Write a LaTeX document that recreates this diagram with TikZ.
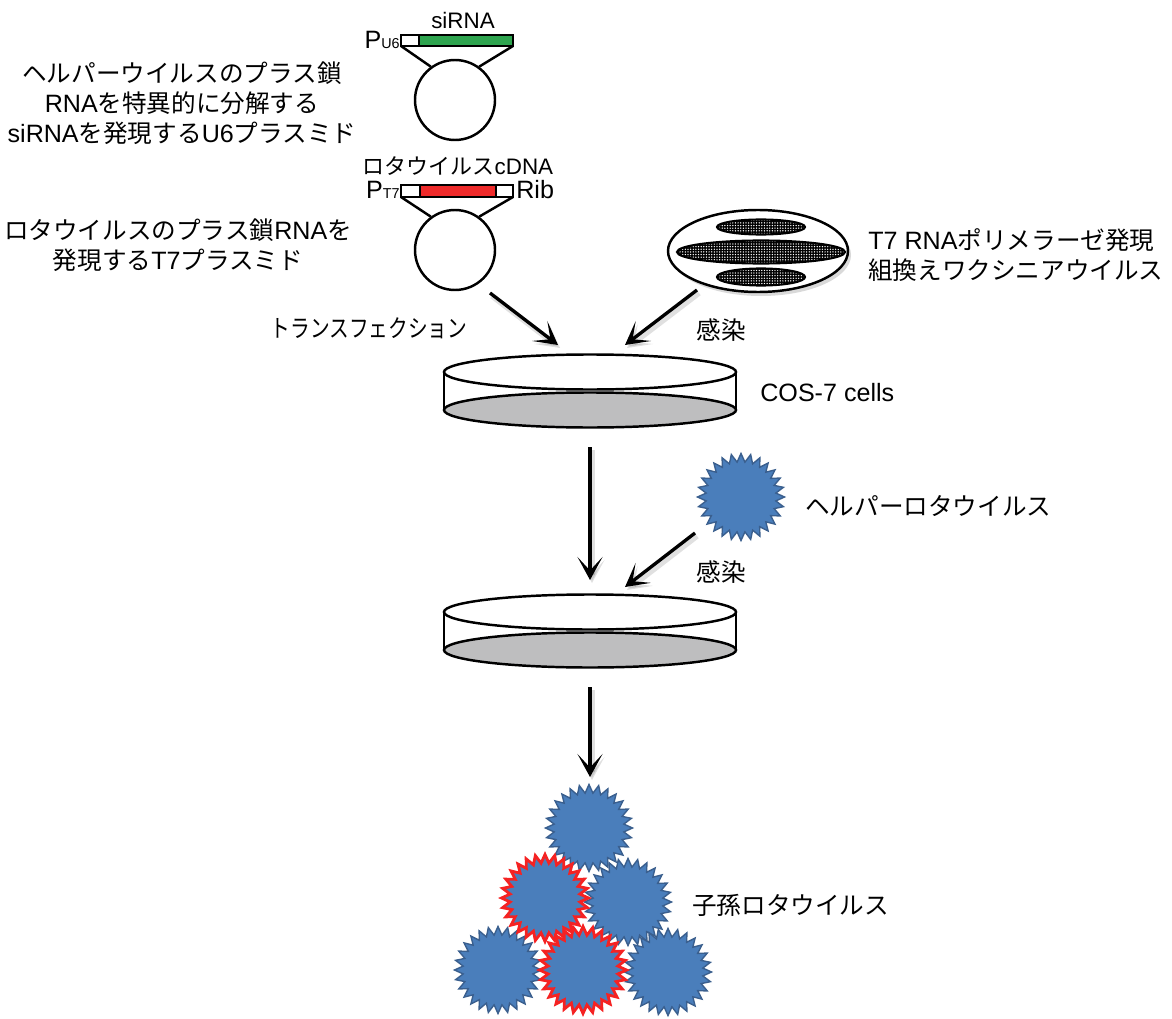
\documentclass[tikz,border=0pt]{standalone}
\usepackage{fontspec}
\setmainfont{Liberation Sans}[Scale=1.02]
\newfontfamily\jpfont{Noto Sans CJK JP}
\newcommand{\ja}[1]{{\jpfont#1}}
\usepackage{xcolor}
\definecolor{cSi}{HTML}{2EA44F}
\definecolor{cCdna}{HTML}{EE2A2A}
\definecolor{cVirus}{HTML}{4A7EBB}
\definecolor{cVirusEdge}{HTML}{3A5F8E}
\definecolor{cRed}{HTML}{F52222}
\definecolor{cDish}{HTML}{BEBEBF}
\usepackage{tikz}
\usetikzlibrary{positioning,arrows.meta,shapes.geometric,patterns.meta,shadows}
\tikzset{
  lbl/.style={font=\fontsize{14}{17}\selectfont,align=center,inner sep=0pt},
  small/.style={font=\fontsize{12.5}{15}\selectfont},
  seg/.style={draw,line width=1.3pt,outer sep=0pt,inner sep=0pt},
  ring/.style={draw,circle,line width=1.4pt,minimum size=16mm,inner sep=0pt},
  % particles: blue = helper, red rim = reassortant
  virus/.style={star,star points=28,star point ratio=1.24,minimum size=17.4mm,
    inner sep=0pt,fill=cVirus,draw=cVirusEdge,line width=0.8pt},
  virus-red/.style={virus,draw=cRed,line width=1.6pt},
  core/.style={preaction={fill=black},pattern={Dots[distance=1.5pt,radius=0.42pt]},
    pattern color=white,draw=black,line width=1.2pt},
  arrow/.style={-{Stealth[length=4.6mm,width=5mm,inset=2.7mm]},line width=1.9pt,
    preaction={draw=black!60,opacity=0.2,line width=3.2pt,
      transform canvas={shift={(0.4mm,-0.6mm)}}}},
  dish/.pic={
    \draw[line width=1.4pt,fill=cDish] (0,38) ellipse [x radius=146,y radius=17.5];
    \draw[line width=1.4pt,fill=white] (0,0) ellipse [x radius=146,y radius=17.5];
    \draw[line width=1.4pt] (-146,0) -- (-146,38) (146,0) -- (146,38);
  },
}

\begin{document}
\begin{tikzpicture}[x=0.2mm,y=-0.2mm]
  \useasboundingbox (0,0) rectangle (1172,1019);

  % U6 siRNA plasmid
  \node[seg,fill=white,minimum width=3.6mm,minimum height=2.2mm] (u6prom) at (410,40.5) {};
  \node[seg,fill=cSi,minimum width=18.8mm,minimum height=2.2mm,right=0pt of u6prom] (u6si) {};
  \node[ring] (ringU6) at (455,100) {};
  \draw[line width=1.4pt] (u6prom.south west) -- (ringU6.126);
  \draw[line width=1.4pt] (u6si.south east) -- (ringU6.54);
  \node[lbl,small] (siname) at (463,20) {siRNA};
  \node[lbl,anchor=base east] (pu6) at (400,49) {P{\fontsize{8}{8}\selectfont U6}};

  % T7 cDNA plasmid
  \node[seg,fill=white,minimum width=3.8mm,minimum height=2.4mm] (t7prom) at (410.5,191) {};
  \node[seg,fill=cCdna,minimum width=15.2mm,minimum height=2.4mm,right=0pt of t7prom] (t7cdna) {};
  \node[seg,fill=white,minimum width=3.4mm,minimum height=2.4mm,right=0pt of t7cdna] (t7rib) {};
  \node[ring] (ringT7) at (455,250) {};
  \draw[line width=1.4pt] (t7prom.south west) -- (ringT7.126);
  \draw[line width=1.4pt] (t7rib.south east) -- (ringT7.54);
  \node[lbl,small] (cdnaname) at (458,166) {\ja{ロタウイルス}cDNA};
  \node[lbl,anchor=base east] (pt7) at (400,199) {P{\fontsize{8}{8}\selectfont T7}};
  \node[lbl,anchor=base west] (rib) at (516,199) {Rib};

  \node[lbl] (u6txt) at (182,103)
    {\ja{ヘルパーウイルスのプラス鎖}\\RNA\ja{を特異的に分解する}\\siRNA\ja{を発現する}U6\ja{プラスミド}};
  \node[lbl] (t7txt) at (178,245)
    {\ja{ロタウイルスのプラス鎖}RNA\ja{を}\\\ja{発現する}T7\ja{プラスミド}};

  % recombinant vaccinia
  \draw[line width=1.4pt,fill=white,drop shadow={opacity=0.3,shadow xshift=0.6mm,shadow yshift=-0.8mm}]
    (758,251) ellipse [x radius=90,y radius=41];
  \path[core] (761,227) ellipse [x radius=44,y radius=7.5];
  \path[core] (761,252) ellipse [x radius=84,y radius=11.5];
  \path[core] (761,277) ellipse [x radius=44,y radius=8.5];
  \node[lbl,anchor=west,align=left] (vactxt) at (868,255)
    {T7 RNA\ja{ポリメラーゼ発現}\\\ja{組換えワクシニアウイルス}};

  % first dish
  \pic (dishA) at (590,372) {dish};
  \node[lbl,anchor=west] (cos) at (760,393) {COS-7 cells};
  \coordinate (tfx-s) at (490,293);
  \coordinate (tfx-e) at (558,345);
  \coordinate (infA-s) at (697,290);
  \coordinate (infA-e) at (625,345);
  \draw[arrow] (tfx-s) -- (tfx-e);
  \draw[arrow] (infA-s) -- (infA-e);
  \node[lbl] (tfx) at (369,328) {\scalebox{0.8}[1]{\ja{トランスフェクション}}};
  \node[lbl] (infA) at (721,330) {\ja{感染}};

  % helper virus, second dish
  \node[virus] (helper) at (741,497) {};
  \node[lbl,anchor=west] (helpertxt) at (805,506) {\ja{ヘルパーロタウイルス}};
  \pic (dishB) at (590,612) {dish};
  \coordinate (downA-s) at (590,447);
  \coordinate (downA-e) at (590,580);
  \coordinate (infB-s) at (695,533);
  \coordinate (infB-e) at (625,587);
  \draw[arrow] (downA-s) -- (downA-e);
  \draw[arrow] (infB-s) -- (infB-e);
  \node[lbl] (infB) at (721,572) {\ja{感染}};

  % progeny
  \coordinate (downB-s) at (590,687);
  \coordinate (downB-e) at (590,777);
  \draw[arrow] (downB-s) -- (downB-e);
  \node[virus] (prog1) at (589,828) {};
  \node[virus] (prog3) at (628,902) {};
  \node[virus] (prog4) at (498,970) {};
  \node[virus] (prog6) at (668,972) {};
  \node[virus-red] (prog2) at (545,898) {};
  \node[virus-red] (prog5) at (583,970) {};
  \node[lbl,anchor=west] (progtxt) at (692,905) {\ja{子孫ロタウイルス}};
\end{tikzpicture}
\end{document}
